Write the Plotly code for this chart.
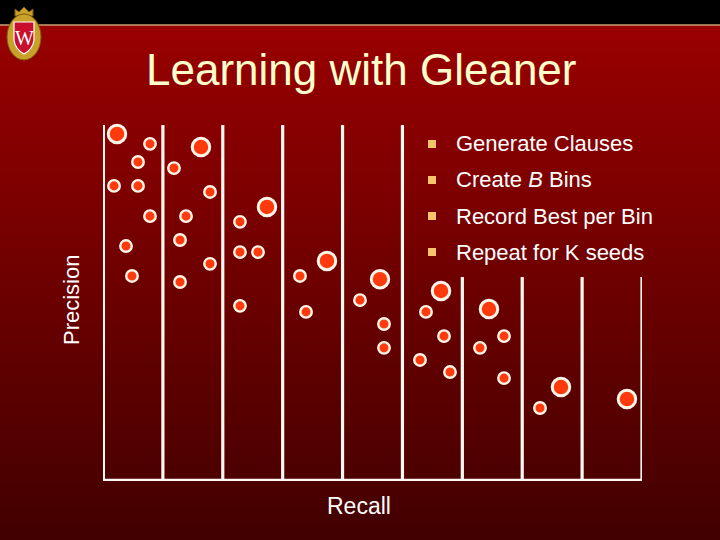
import plotly.graph_objects as go

W, H = 720, 540

# ---- data (recall bin units, precision 0..1) ----
large_recall = [0.234, 1.636, 2.738, 3.740, 4.625, 5.644, 6.445, 7.647, 8.749]
large_precision = [0.975, 0.938, 0.770, 0.618, 0.567, 0.534, 0.483, 0.264, 0.230]

small_recall = [0.785, 0.584, 1.185, 0.184, 0.584, 1.787, 0.785, 1.386, 2.287, 0.384,
                1.286, 2.287, 2.588, 0.484, 1.286, 1.787, 3.289, 2.287, 3.390, 4.291,
                4.692, 4.692, 5.393, 5.694, 5.293, 5.794, 6.295, 6.696, 6.696, 7.297]
small_precision = [0.947, 0.896, 0.879, 0.829, 0.829, 0.812, 0.744, 0.744, 0.728, 0.660,
                   0.677, 0.643, 0.643, 0.576, 0.559, 0.610, 0.576, 0.492, 0.475, 0.508,
                   0.441, 0.374, 0.475, 0.407, 0.340, 0.306, 0.374, 0.407, 0.289, 0.205]

bin_edges = [0, 1, 2, 3, 4, 5, 6, 7, 8, 9]
bin_tops = [1, 1, 1, 1, 1, 1, 0.573, 0.573, 0.573, 0.573]

title_text = "Learning with Gleaner"
bullets = ["Generate Clauses", "Create <i>B</i> Bins", "Record Best per Bin", "Repeat for K seeds"]
x_label = "Recall"
y_label = "Precision"


def px(x):
    return x / W


def py(y):
    return 1 - y / H


FILL = "#FF3A0C"
EDGE = "#FFF6EA"

fig = go.Figure()
fig.add_trace(go.Scatter(
    x=small_recall, y=small_precision, mode="markers", cliponaxis=False,
    marker=dict(size=11.5, color=FILL, line=dict(color=EDGE, width=2.4)),
    hoverinfo="skip", showlegend=False))
fig.add_trace(go.Scatter(
    x=large_recall, y=large_precision, mode="markers", cliponaxis=False,
    marker=dict(size=17.5, color=FILL, line=dict(color=EDGE, width=3)),
    hoverinfo="skip", showlegend=False))

shapes = []
# background: black band + tan line + vertical red gradient
shapes.append(dict(type="rect", xref="paper", yref="paper", x0=0, x1=1, y0=py(25), y1=1,
                   fillcolor="black", line=dict(width=0), layer="below"))
top_c, bot_c = (153, 0, 0), (66, 0, 0)
y_start, n = 25, 90
step = (H - y_start) / n
for i in range(n):
    t = i / (n - 1)
    c = tuple(int(round(top_c[k] + (bot_c[k] - top_c[k]) * t)) for k in range(3))
    y0 = y_start + i * step
    shapes.append(dict(type="rect", xref="paper", yref="paper", x0=0, x1=1,
                       y0=py(y0 + step + 0.5), y1=py(y0),
                       fillcolor="rgb(%d,%d,%d)" % c, line=dict(width=0), layer="below"))
shapes.append(dict(type="line", xref="paper", yref="paper", x0=0, x1=1, y0=py(25), y1=py(25),
                   line=dict(color="#C9A074", width=1.5), layer="below"))

# logo (crest): crown, gold oval, red shield
shapes.append(dict(type="path", xref="paper", yref="paper", layer="below",
                   path="M %f %f L %f %f L %f %f L %f %f L %f %f L %f %f L %f %f Z" % (
                       px(15), py(16), px(15), py(9), px(19), py(12), px(24), py(7),
                       px(29), py(12), px(33), py(9), px(33), py(16)),
                   fillcolor="#C9A02A", line=dict(color="#7A5A10", width=1)))
shapes.append(dict(type="circle", xref="paper", yref="paper", layer="below",
                   x0=px(7), x1=px(41), y0=py(60), y1=py(14),
                   fillcolor="#C9A02A", line=dict(color="#7A5A10", width=1)))
shapes.append(dict(type="path", xref="paper", yref="paper", layer="below",
                   path="M %f %f L %f %f L %f %f Q %f %f %f %f Q %f %f %f %f Z" % (
                       px(14), py(22), px(34), py(22), px(34), py(40),
                       px(33), py(49), px(24), py(54), px(15), py(49), px(14), py(40)),
                   fillcolor="#C8102E", line=dict(color="white", width=1.2)))

# bin separators and axes
for xe, top in zip(bin_edges, bin_tops):
    shapes.append(dict(type="line", xref="x", yref="y", x0=xe, x1=xe, y0=-0.005, y1=top,
                       line=dict(color="#FFF8F0", width=4 if xe == 0 else 3.2)))
shapes.append(dict(type="line", xref="x", yref="y", x0=-0.03, x1=9.03, y0=0, y1=0,
                   line=dict(color="#FFF8F0", width=4.5)))

# bullet squares
bullet_y = [144, 180, 216, 252]
for yb in bullet_y:
    shapes.append(dict(type="rect", xref="paper", yref="paper",
                       x0=px(428), x1=px(436), y0=py(yb + 4), y1=py(yb - 4),
                       fillcolor="#F7C46C", line=dict(width=0)))

annotations = [
    dict(text=title_text, x=px(361), y=py(69), xref="paper", yref="paper", showarrow=False,
         font=dict(family="Liberation Sans, Arial", size=44, color="#FFFFCC"),
         xanchor="center", yanchor="middle"),
    dict(text=x_label, x=px(359), y=py(506), xref="paper", yref="paper", showarrow=False,
         font=dict(family="Liberation Sans, Arial", size=23, color="white"),
         xanchor="center", yanchor="middle"),
    dict(text=y_label, x=px(71), y=py(300), xref="paper", yref="paper", showarrow=False,
         textangle=-90, font=dict(family="Liberation Sans, Arial", size=22, color="white"),
         xanchor="center", yanchor="middle"),
    dict(text="W", x=px(24), y=py(38), xref="paper", yref="paper", showarrow=False,
         font=dict(family="Liberation Serif, Times New Roman", size=20, color="white"),
         xanchor="center", yanchor="middle"),
]
for txt, yb in zip(bullets, bullet_y):
    annotations.append(dict(text=txt, x=px(454), y=py(yb), xref="paper", yref="paper",
                            showarrow=False, xanchor="left", yanchor="middle",
                            font=dict(family="Liberation Sans, Arial", size=22, color="white")))

fig.update_layout(
    width=W, height=H, margin=dict(l=0, r=0, t=0, b=0),
    paper_bgcolor="#7a0000", plot_bgcolor="rgba(0,0,0,0)",
    xaxis=dict(domain=[px(103), px(642)], range=[0, 9], visible=False, fixedrange=True),
    yaxis=dict(domain=[py(481), py(125)], range=[0, 1], visible=False, fixedrange=True),
    shapes=shapes, annotations=annotations, showlegend=False,
)

fig.write_html("out.html", config={"displayModeBar": False},
               post_script="document.body.style.margin='0';document.body.style.overflow='hidden';")
